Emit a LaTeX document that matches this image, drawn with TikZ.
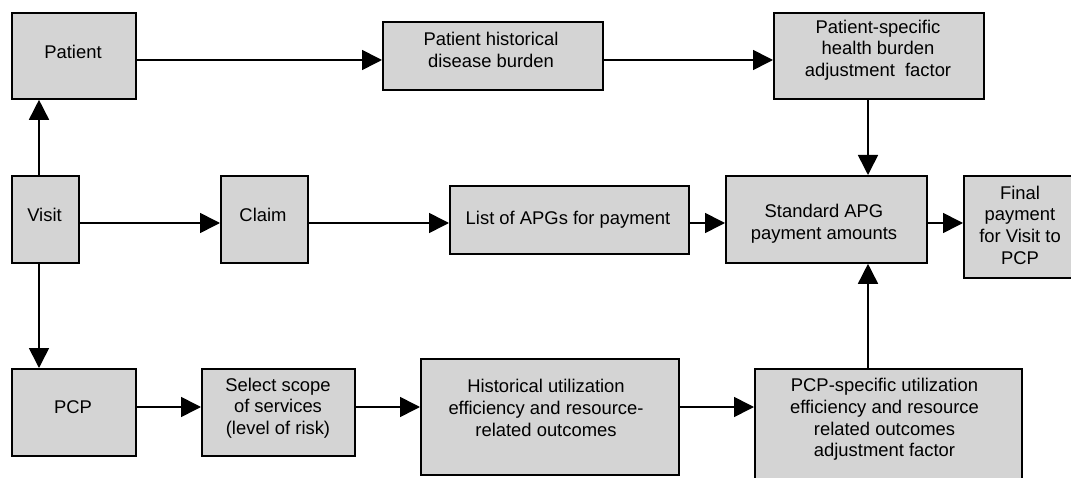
\documentclass[tikz,border=0pt]{standalone}
\usepackage{fontspec}
\setmainfont{Liberation Sans}
\usetikzlibrary{arrows.meta}
\definecolor{boxgray}{RGB}{212,212,212}
\begin{document}
\begin{tikzpicture}[x=1pt,y=-1pt,
  box/.style={draw=black, fill=boxgray, line width=1.8pt, inner sep=0pt, anchor=north west},
  txt/.style={align=center, font=\fontsize{18.4}{21.7}\selectfont, inner sep=0pt},
  arr/.style={line width=1.6pt, -{Triangle[length=20pt,width=20pt]}}]
\useasboundingbox (0,0) rectangle (1071,478);
% boxes
\node[box, minimum width=124, minimum height=86]  (Patient) at (11,12) {};
\node[box, minimum width=220, minimum height=68]  (PHist)   at (382,21) {};
\node[box, minimum width=210, minimum height=86]  (PSpec)   at (773,12) {};
\node[box, minimum width=67,  minimum height=87]  (Visit)   at (11,175) {};
\node[box, minimum width=87,  minimum height=87]  (Claim)   at (220,175) {};
\node[box, minimum width=239, minimum height=68]  (List)    at (449,185) {};
\node[box, minimum width=201, minimum height=87]  (Std)     at (725,175) {};
\node[box, minimum width=114, minimum height=102] (Final)   at (963,175) {};
\node[box, minimum width=124, minimum height=87]  (PCP)     at (11,368) {};
\node[box, minimum width=153, minimum height=87]  (Select)  at (201,368) {};
\node[box, minimum width=258, minimum height=116] (HistU)   at (420,358) {};
\node[box, minimum width=267, minimum height=122] (PCPspec) at (754,368) {};
% texts
\node[txt] (tPatient) at (73,52) {Patient};
\node[txt] (tPHist) at (491,50) {Patient historical\\disease burden};
\node[txt] (tPSpec) at (878,50) {Patient-specific\\health burden\\adjustment\ \ factor};
\node[txt] (tVisit) at (44.5,215) {Visit};
\node[txt] (tClaim) at (263,215) {Claim};
\node[txt] (tList) at (568,220) {List of APGs for payment};
\node[txt] (tStd) at (824,224) {Standard APG\\payment amounts};
\node[txt] (tFinal) at (1020,225) {Final\\payment\\for Visit to\\PCP};
\node[txt] (tPCP) at (73,407) {PCP};
\node[txt] (tSelect) at (278,408) {Select scope\\of services\\(level of risk)};
\node[txt] (tHistU) at (546,408) {Historical utilization\\efficiency and resource-\\related outcomes};
\node[txt] (tPCPspec) at (884.5,419.5) {PCP-specific utilization\\efficiency and resource\\related outcomes\\adjustment factor};
% guide coordinates
\coordinate (rowA) at (0,60);
\coordinate (rowB) at (0,223);
\coordinate (rowC) at (0,407);
\coordinate (colV) at (39,0);
\coordinate (colS) at (868,0);
% connectors
\draw[arr] (Patient.east |- rowA) -- (PHist.west |- rowA);
\draw[arr] (PHist.east |- rowA) -- (PSpec.west |- rowA);
\draw[arr] (PSpec.south -| colS) -- (Std.north -| colS);
\draw[arr] (Visit.north -| colV) -- (Patient.south -| colV);
\draw[arr] (Visit.south -| colV) -- (PCP.north -| colV);
\draw[arr] (Visit.east |- rowB) -- (Claim.west |- rowB);
\draw[arr] (Claim.east |- rowB) -- (List.west |- rowB);
\draw[arr] (List.east |- rowB) -- (Std.west |- rowB);
\draw[arr] (Std.east |- rowB) -- (Final.west |- rowB);
\draw[arr] (PCP.east |- rowC) -- (Select.west |- rowC);
\draw[arr] (Select.east |- rowC) -- (HistU.west |- rowC);
\draw[arr] (HistU.east |- rowC) -- (PCPspec.west |- rowC);
\draw[arr] (PCPspec.north -| colS) -- (Std.south -| colS);
\end{tikzpicture}
\end{document}
